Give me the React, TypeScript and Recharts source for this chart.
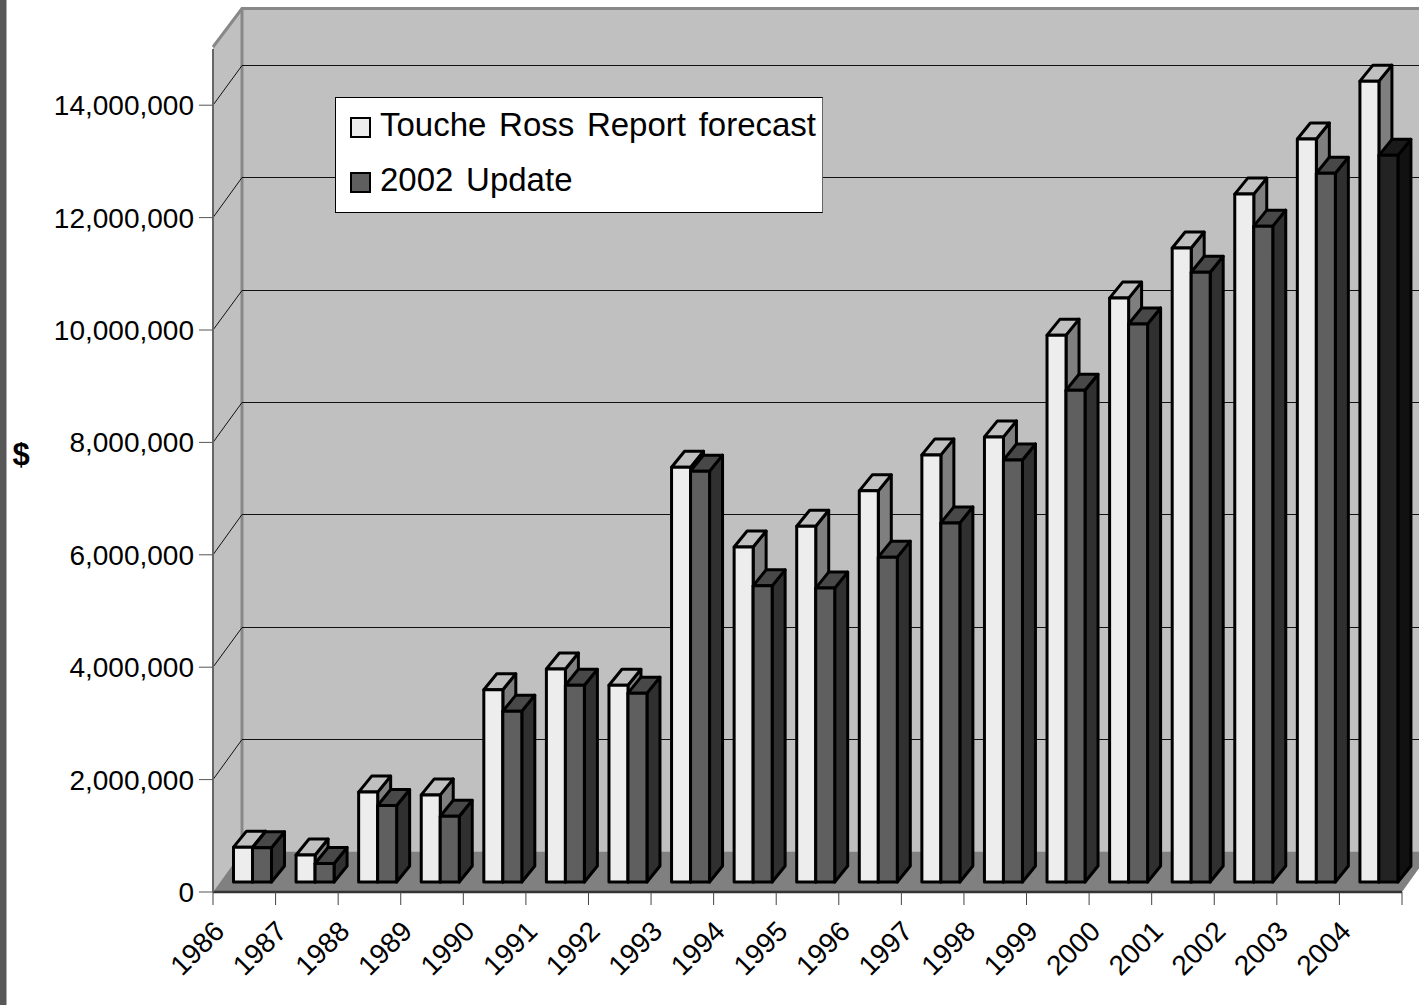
import React from 'react';
import { BarChart, Bar, XAxis, YAxis, CartesianGrid, Legend } from 'recharts';

const years = ['1986','1987','1988','1989','1990','1991','1992','1993','1994','1995','1996','1997','1998','1999','2000','2001','2002','2003','2004'];
const forecast = [620000,480000,1600000,1550000,3420000,3790000,3500000,7380000,5960000,6330000,6960000,7600000,7920000,9730000,10390000,11280000,12240000,13220000,14250000];
const update2002 = [610000,330000,1360000,1170000,3040000,3500000,3360000,7310000,5270000,5230000,5780000,6390000,7510000,8750000,9930000,10850000,11670000,12610000,12930000];
const yTicks = [0,2000000,4000000,6000000,8000000,10000000,12000000,14000000];
const seriesNames = ['Touche Ross Report forecast','2002 Update'];

const rows = years.map((year, i) => ({ year, forecast: forecast[i], update2002: update2002[i] }));

const W = 1419, H = 1005;
const LEFT = 213, TOP = 49, RIGHT = 1402, BOTTOM = 892;
const WALL_DX = 29, WALL_DY = 40.5;
const BAR_LIFT = 10, BAR_SHIFT = 8.5, BAR_DX = 13, BAR_DY = 16;
const FONT = '"Liberation Sans", Arial, sans-serif';

const lightFaces = { front: '#ededed', top: '#c0c0c0', side: '#7f7f7f' };
const darkFaces = { front: '#5f5f5f', top: '#484848', side: '#303030' };
const lastFaces = { front: '#232323', top: '#1a1a1a', side: '#111111' };

// Side wall, back wall and floor of the 3D box, layered underneath the chart.
function Box() {
  const backL = LEFT + WALL_DX, backB = BOTTOM - WALL_DY, backT = 8.5;
  return (
    <svg width={W} height={H} style={{ position: 'absolute', left: 0, top: 0 }}>
      <rect x={0} y={0} width={6.5} height={H} fill="#585858" />
      <rect x={backL} y={backT} width={W - backL + 20} height={backB - backT} fill="#c0c0c0" />
      <polygon points={`${LEFT},${BOTTOM} ${LEFT},47 ${backL},${backT} ${backL},${backB}`} fill="#c0c0c0" />
      <polygon points={`${LEFT},${BOTTOM} ${backL},${backB} ${RIGHT + WALL_DX},${backB} ${RIGHT},${BOTTOM}`} fill="#808080" />
      <polyline points={`${LEFT},47 ${backL},${backT} ${W + 10},${backT}`} fill="none" stroke="#888888" strokeWidth={3} />
      <line x1={backL} y1={backT} x2={backL} y2={backB} stroke="#888888" strokeWidth={3} />
      <text x={21} y={465} textAnchor="middle" fontFamily={FONT} fontSize={31} fontWeight="bold" fill="#000">$</text>
    </svg>
  );
}

// Each horizontal gridline folds from the side wall onto the back wall.
// The lines along the plot's top and bottom edges are left out.
function gridFold(props: any) {
  const y = props.y1;
  if (y >= BOTTOM - 1 || y <= TOP + 1) return <g key={props.key ?? y} />;
  const by = Math.round(y - WALL_DY) + 0.5;
  return (
    <g key={props.key ?? y}>
      <line x1={LEFT} y1={y} x2={LEFT + WALL_DX} y2={by} stroke="#111" strokeWidth={1} />
      <line x1={LEFT + WALL_DX} y1={by} x2={W} y2={by} stroke="#111" strokeWidth={1} />
    </g>
  );
}

function box3d(props: any, faces: { front: string; top: string; side: string }) {
  const x = props.x + BAR_SHIFT;
  const w = props.width;
  const top = props.y - BAR_LIFT;
  const bot = props.y + props.height - BAR_LIFT;
  const line = { stroke: '#000', strokeWidth: 3, strokeLinejoin: 'round' as const };
  return (
    <g>
      <polygon points={`${x + w},${top} ${x + w + BAR_DX},${top - BAR_DY} ${x + w + BAR_DX},${bot - BAR_DY} ${x + w},${bot}`} fill={faces.side} {...line} />
      <polygon points={`${x},${top} ${x + BAR_DX},${top - BAR_DY} ${x + w + BAR_DX},${top - BAR_DY} ${x + w},${top}`} fill={faces.top} {...line} />
      <rect x={x} y={top} width={w} height={bot - top} fill={faces.front} {...line} />
    </g>
  );
}

const forecastShape = (props: any) => box3d(props, lightFaces);
const updateShape = (props: any) => box3d(props, props.index === years.length - 1 ? lastFaces : darkFaces);

// Tick marks sit on the band edges, with the year hung from the left edge of its band.
function YearTick(props: any) {
  const band = (RIGHT - LEFT) / years.length;
  const edge = props.x - band / 2;
  const isLast = props.index === years.length - 1;
  const ax = edge + 13;
  const ay = BOTTOM + 41;
  return (
    <g>
      <line x1={edge} y1={BOTTOM} x2={edge} y2={BOTTOM + 13} stroke="#444" strokeWidth={1} />
      {isLast && <line x1={edge + band} y1={BOTTOM} x2={edge + band} y2={BOTTOM + 13} stroke="#444" strokeWidth={1} />}
      <text
        x={ax}
        y={ay}
        textAnchor="end"
        fontFamily={FONT}
        fontSize={28}
        fill="#000"
        transform={`rotate(-45 ${ax} ${ay})`}
      >
        {props.payload.value}
      </text>
    </g>
  );
}

function Swatch({ fill }: { fill: string }) {
  return <span style={{ display: 'inline-block', boxSizing: 'border-box', width: 21, height: 21, background: fill, border: '2.5px solid #000', marginRight: 9, position: 'relative', top: 3 }} />;
}

function LegendBox() {
  const fills = [lightFaces.front, darkFaces.front];
  return (
    <div style={{ boxSizing: 'border-box', width: 488, height: 116, background: '#fff', border: '1px solid #000', borderRightColor: '#666', fontFamily: FONT, fontSize: 33, wordSpacing: 3.5, color: '#000', paddingLeft: 14, lineHeight: '55px', whiteSpace: 'nowrap' }}>
      {seriesNames.map((name, i) => (
        <div key={name} style={{ display: 'flex', alignItems: 'center', height: 55, marginTop: i === 0 ? -1 : 0 }}>
          <Swatch fill={fills[i]} />
          {name}
        </div>
      ))}
    </div>
  );
}

export default function App() {
  return (
    <div style={{ position: 'absolute', left: 0, top: 0, width: W, height: H, background: '#fff', overflow: 'hidden' }}>
      <Box />
      <div style={{ position: 'absolute', left: 0, top: 0 }}>
        <BarChart
          width={W}
          height={H}
          data={rows}
          margin={{ top: TOP, right: W - RIGHT, bottom: 0, left: 0 }}
          barSize={19}
          barGap={0}
        >
          <CartesianGrid vertical={false} horizontal={gridFold} />
          <XAxis
            dataKey="year"
            interval={0}
            height={H - BOTTOM}
            tickLine={false}
            tick={YearTick}
            axisLine={{ stroke: '#333', strokeWidth: 2.5 }}
          />
          <YAxis
            width={LEFT}
            domain={[0, 15000000]}
            ticks={yTicks}
            interval={0}
            allowDataOverflow
            tickSize={14}
            tickMargin={5}
            tickFormatter={(v: number) => v.toLocaleString('en-US')}
            tick={{ fontFamily: FONT, fontSize: 28, fill: '#000' }}
            tickLine={{ stroke: '#555', strokeWidth: 1 }}
            axisLine={{ stroke: '#666', strokeWidth: 2 }}
          />
          <Legend
            layout="vertical"
            align="center"
            verticalAlign="middle"
            content={LegendBox}
            wrapperStyle={{ left: 335, top: 97, width: 488, height: 116, margin: 0 }}
          />
          <Bar dataKey="forecast" name={seriesNames[0]} isAnimationActive={false} shape={forecastShape} />
          <Bar dataKey="update2002" name={seriesNames[1]} isAnimationActive={false} shape={updateShape} />
        </BarChart>
      </div>
    </div>
  );
}
